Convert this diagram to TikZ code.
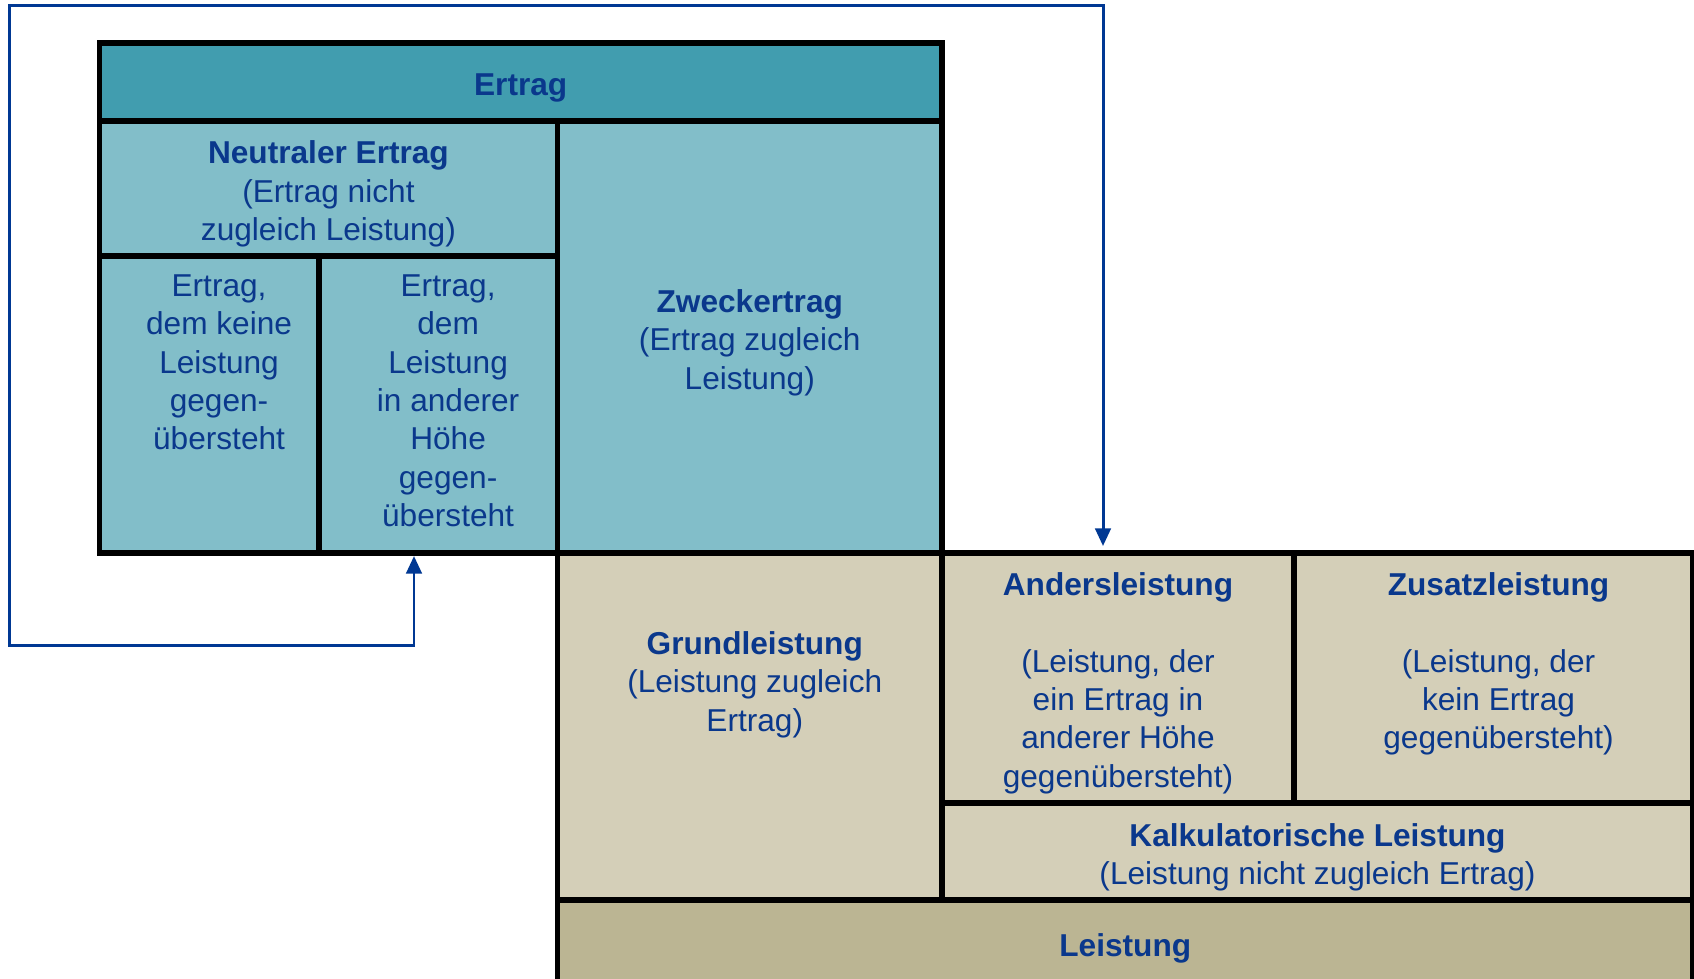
\documentclass[tikz,border=0pt]{standalone}
\usepackage{fontspec}
\setmainfont{Liberation Sans}
\usepackage{tikz}
\usetikzlibrary{arrows.meta,positioning,calc}
\definecolor{ErtragHead}{RGB}{65,157,175}
\definecolor{ErtragCell}{RGB}{130,190,201}
\definecolor{LeistCell}{RGB}{212,207,184}
\definecolor{LeistFoot}{RGB}{187,181,147}
\definecolor{TextBlue}{RGB}{10,56,140}
\definecolor{LinkBlue}{RGB}{0,56,147}

\begin{document}
\begin{tikzpicture}[font=\fontsize{9}{10.9}\selectfont,
  cell/.style={draw=black,line width=1.6pt,inner sep=0pt,outer sep=0pt,anchor=north west},
  txt/.style={inner sep=0pt,align=center,text=TextBlue},
  mid/.style={txt,yshift=-0.055cm},
  link/.style={draw=LinkBlue,line width=0.85pt,>={Triangle[width=4.4pt,length=5pt]},<->}]
\useasboundingbox (0,0) rectangle (16.94,-9.78);
\clip (0,0) rectangle (16.94,-9.78);
% Ertrag side
\node[cell,fill=ErtragHead,minimum width=8.426cm,minimum height=0.778cm] (ertrag) at (0.994,-0.432) {};
\node[cell,fill=ErtragCell,minimum width=4.581cm,minimum height=1.35cm] (neutral) at (0.994,-1.21) {};
\node[cell,fill=ErtragCell,minimum width=2.193cm,minimum height=2.97cm] (nkeine) at (0.994,-2.56) {};
\node[cell,fill=ErtragCell,minimum width=2.388cm,minimum height=2.97cm] (nhoehe) at (3.187,-2.56) {};
\node[cell,fill=ErtragCell,minimum width=3.845cm,minimum height=4.32cm] (zweck) at (5.575,-1.21) {};
% Leistung side
\node[cell,fill=LeistCell,minimum width=3.845cm,minimum height=3.47cm] (grund) at (5.575,-5.53) {};
\node[cell,fill=LeistCell,minimum width=3.52cm,minimum height=2.5cm] (anders) at (9.42,-5.53) {};
\node[cell,fill=LeistCell,minimum width=3.99cm,minimum height=2.5cm] (zusatz) at (12.94,-5.53) {};
\node[cell,fill=LeistCell,minimum width=7.51cm,minimum height=0.97cm] (kalk) at (9.42,-8.03) {};
\node[cell,fill=LeistFoot,minimum width=11.355cm,minimum height=0.85cm] (leistung) at (5.575,-9.0) {};

% texts centred in their cells
\node[mid] (tertrag) at (ertrag.center) {\textbf{Ertrag}};
\node[mid] (tneutral) at (neutral.center) {\textbf{Neutraler Ertrag}\\ (Ertrag nicht\\ zugleich Leistung)};
\node[mid] (tzweck) at (zweck.center) {\textbf{Zweckertrag}\\ (Ertrag zugleich\\ Leistung)};
\node[mid] (tkalk) at (kalk.center) {\textbf{Kalkulatorische Leistung}\\ (Leistung nicht zugleich Ertrag)};
\node[mid] (tleistung) at (leistung.center) {\textbf{Leistung}};

% texts hanging from the top of their cells
\node[txt,below=0.18cm of nkeine.north,xshift=0.1cm] (tkeine)
  {Ertrag,\\ dem keine\\ Leistung\\ gegen-\\ übersteht};
\node[txt,below=0.18cm of nhoehe.north,xshift=0.1cm] (thoehe)
  {Ertrag,\\ dem\\ Leistung\\ in anderer\\ Höhe\\ gegen-\\ übersteht};
\node[txt,below=0.78cm of grund.north,xshift=0.05cm] (tgrund)
  {\textbf{Grundleistung}\\ (Leistung zugleich\\ Ertrag)};
\node[txt,below=0.19cm of anders.north] (tanders)
  {\textbf{Andersleistung}\\[10.9pt] (Leistung, der\\ ein Ertrag in\\ anderer Höhe\\ gegenübersteht)};
\node[txt,below=0.19cm of zusatz.north,xshift=0.05cm] (tzusatz)
  {\textbf{Zusatzleistung}\\[10.9pt] (Leistung, der\\ kein Ertrag\\ gegenübersteht)};

% loop between the two
\coordinate (lx) at (4.14,0);
\coordinate (rx) at (11.03,0);
\draw[link,shorten <=0.03cm,shorten >=0.07cm] (nhoehe.south -| lx) |- (0.097,-6.45) |- (11.03,-0.054) -- (anders.north -| rx);
\end{tikzpicture}
\end{document}
